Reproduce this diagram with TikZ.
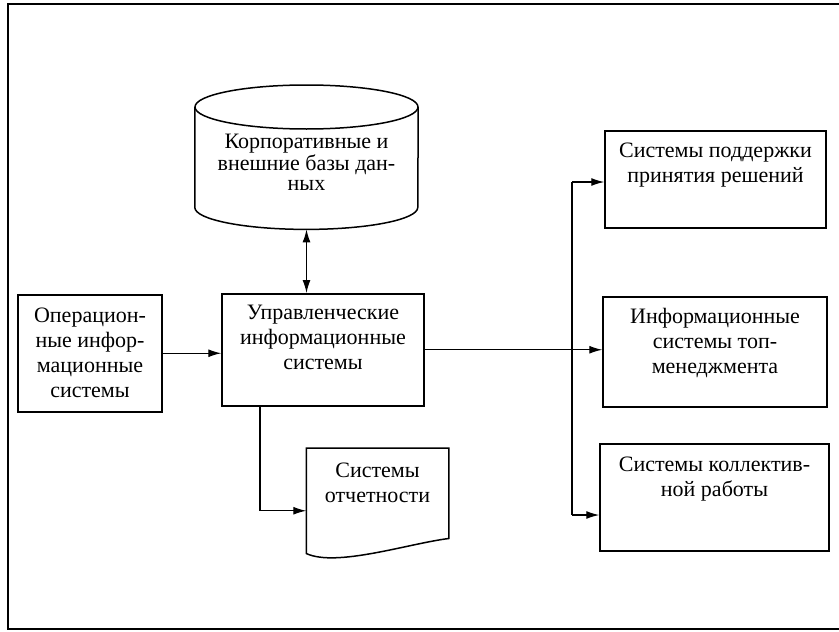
\documentclass[tikz,border=0pt]{standalone}
\usepackage{fontspec}
\setmainfont{Liberation Serif}
\usetikzlibrary{positioning,arrows.meta}

\begin{document}
\begin{tikzpicture}[x=1pt,y=-1pt,>={Latex[length=13pt,width=8pt]},
  sys box/.style={draw,line width=1.5pt,align=center,inner sep=0pt,anchor=north,
    font=\fontsize{22}{25}\selectfont},
  db text/.style={align=center,inner sep=0pt,anchor=north,
    font=\fontsize{22}{20}\selectfont},
  link/.style={line width=1.2pt}]

  \useasboundingbox (0,0) rectangle (839,632);
  \draw[line width=1.8pt] (839,4) -| (8,629) -- (839,629);

  \node[db text,minimum width=223pt,text height=105pt,text depth=39pt] (db) at (306.5,85)
    {Корпоративные и\\внешние базы дан-\\ных};
  \draw[line width=1.5pt] ([yshift=-22pt]db.north west) -- ([yshift=22pt]db.south west)
    arc[start angle=180,end angle=360,x radius=111.5pt,y radius=22pt]
    -- ([yshift=-22pt]db.north east);
  \draw[line width=1.5pt] ([yshift=-22pt]db.north) ellipse [x radius=111.5pt,y radius=22pt];

  \node[sys box,minimum width=144pt,text height=102.5pt,text depth=14.5pt] (ops) at (90,294)
    {Операцион-\\ные инфор-\\мационные\\системы};
  \node[sys box,minimum width=202pt,text height=76pt,text depth=36pt] (mis) at (323,293)
    {Управленческие\\информационные\\системы};
  \node[sys box,draw=none,minimum width=141pt,text height=54pt,text depth=50pt] (rep) at (377.5,448)
    {Системы\\отчетности};
  \draw[line width=1.5pt] (rep.south west) -- (rep.north west) -- (rep.north east)
    -- ([yshift=15pt]rep.south east) .. controls +(-40pt,-5pt) and +(30pt,-14pt) .. (rep.south west) -- cycle;

  \node[sys box,minimum width=221pt,text height=52pt,text depth=45pt] (dss) at (715.5,130)
    {Системы поддержки\\принятия решений};
  \node[sys box,minimum width=224pt,text height=77pt,text depth=33pt] (ess) at (715,296)
    {Информационные\\системы топ-\\менеджмента};
  \node[sys box,minimum width=229pt,text height=53pt,text depth=54pt] (gdss) at (714.5,443)
    {Системы коллектив-\\ной работы};

  \coordinate (bt) at (572,182);
  \coordinate (bb) at (572,515);

  \draw[<->,link] (db.south) -- (db.south |- mis.north);
  \draw[->,link] (ops.east) -- (ops.east -| mis.west);
  \draw[->,link] (mis.east) -- (mis.east -| ess.west);
  \draw[->,link] ([xshift=-63pt]mis.south) |- ([yshift=-10pt]rep.west);
  \draw[link] (bt) -- (bb);
  \draw[->,link] (bt) -- (bt -| dss.west);
  \draw[->,link] (bb) -- (bb -| gdss.west);
\end{tikzpicture}
\end{document}
